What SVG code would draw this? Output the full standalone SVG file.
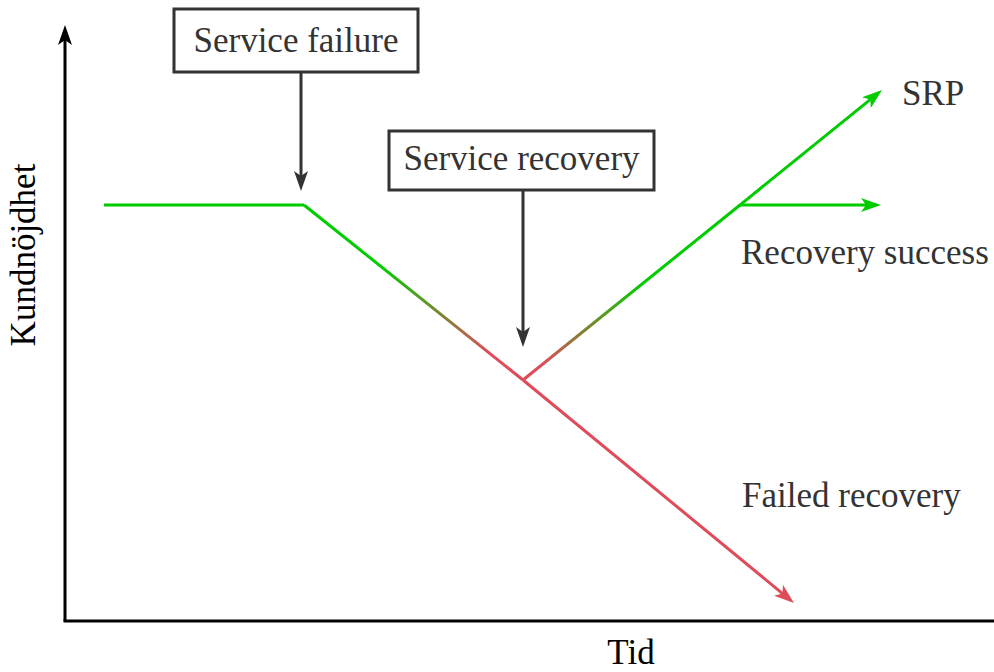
<svg xmlns="http://www.w3.org/2000/svg" width="994" height="672" viewBox="0 0 994 672">
<style>
text{font-family:"Liberation Serif","Times New Roman",serif;font-size:35px;fill:#333}
.box{fill:#fff;stroke:#333;stroke-width:3}
.ptr{stroke:#333;stroke-width:3;fill:none}
.axis{stroke:#000;stroke-width:3;fill:none}
.g{stroke:#00cc00;stroke-width:3;fill:none}
.r{stroke:#e04b5a;stroke-width:3;fill:none}
</style>
<defs>
<marker id="aDark" markerUnits="userSpaceOnUse" viewBox="0 0 20 14" markerWidth="20" markerHeight="14" refX="6" refY="7" orient="auto"><path d="M0,0 L20,7 L0,14 L5,7 Z" fill="#333"/></marker>
<marker id="aBlack" markerUnits="userSpaceOnUse" viewBox="0 0 20 14" markerWidth="20" markerHeight="14" refX="6" refY="7" orient="auto"><path d="M0,0 L20,7 L0,14 L5,7 Z" fill="#000"/></marker>
<marker id="aGreen" markerUnits="userSpaceOnUse" viewBox="0 0 20 14" markerWidth="20" markerHeight="14" refX="6" refY="7" orient="auto"><path d="M0,0 L20,7 L0,14 L5,7 Z" fill="#00cc00"/></marker>
<marker id="aRed" markerUnits="userSpaceOnUse" viewBox="0 0 20 14" markerWidth="20" markerHeight="14" refX="6" refY="7" orient="auto"><path d="M0,0 L20,7 L0,14 L5,7 Z" fill="#e04b5a"/></marker>
<linearGradient id="gDown" gradientUnits="userSpaceOnUse" x1="304" y1="205" x2="523" y2="380">
<stop offset="0.35" stop-color="#00cc00"/><stop offset="0.85" stop-color="#e04b5a"/>
</linearGradient>
<linearGradient id="gUp" gradientUnits="userSpaceOnUse" x1="523" y1="380" x2="740" y2="205">
<stop offset="0.08" stop-color="#e04b5a"/><stop offset="0.55" stop-color="#00cc00"/>
</linearGradient>
</defs>
<g id="axes">
<path class="axis" d="M65,621 L65,39" marker-end="url(#aBlack)"/>
<path class="axis" d="M63.5,621 L994,621"/>
</g>
<g id="connectors">
<path class="ptr" d="M301,72 L301,177" marker-end="url(#aDark)"/>
<path class="ptr" d="M523,190 L523,333" marker-end="url(#aDark)"/>
<path class="g" d="M104,205 L304,205"/>
<path d="M304,205 L523,380" stroke="url(#gDown)" stroke-width="3" fill="none"/>
<path class="r" d="M523,380 L783.2,594.1" marker-end="url(#aRed)"/>
<path d="M523,380 L740,205" stroke="url(#gUp)" stroke-width="3" fill="none"/>
<path class="g" d="M739,205.8 L871.1,98.8" marker-end="url(#aGreen)"/>
<path class="g" d="M740,205 L867,205" marker-end="url(#aGreen)"/>
</g>
<g id="service-failure">
<rect class="box" x="174" y="9" width="244" height="63"/>
<text x="296" y="52" text-anchor="middle">Service failure</text>
</g>
<g id="service-recovery">
<rect class="box" x="389" y="131" width="265" height="59"/>
<text x="521.5" y="170" text-anchor="middle">Service recovery</text>
</g>
<g id="labels">
<text x="902" y="105">SRP</text>
<text x="741" y="264">Recovery success</text>
<text x="742" y="507">Failed recovery</text>
<text x="631" y="664" text-anchor="middle" style="fill:#000">Tid</text>
<text transform="translate(35,255) rotate(-90)" x="0" y="0" text-anchor="middle" style="fill:#000">Kundnöjdhet</text>
</g>
</svg>
